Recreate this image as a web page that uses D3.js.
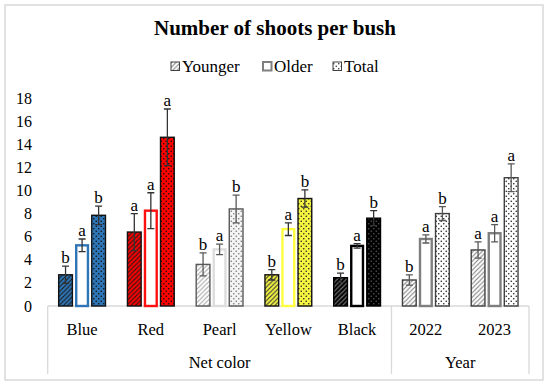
<!DOCTYPE html>
<html>
<head>
<meta charset="utf-8">
<script src="https://cdn.jsdelivr.net/npm/d3@7"></script>
<style>
  body { margin: 0; background: #fff; }
</style>
</head>
<body>
<script>
// data
const categories = ["Blue", "Red", "Pearl", "Yellow", "Black", "2022", "2023"]
const groups = [{ name: "Net color", from: 0, to: 5 }, { name: "Year", from: 5, to: 7 }]
const series = ["Younger", "Older", "Total"]
const younger = [2.7, 6.4, 3.6, 2.7, 2.45, 2.25, 4.85]
const older = [5.25, 8.25, 4.9, 6.65, 5.2, 5.8, 6.3]
const total = [7.85, 14.6, 8.4, 9.3, 7.6, 8.0, 11.1]
const errYounger = [0.75, 1.6, 1.0, 0.45, 0.4, 0.45, 0.7]
const errOlder = [0.55, 1.55, 0.45, 0.55, 0.2, 0.35, 0.75]
const errTotal = [0.8, 2.45, 1.2, 0.75, 0.65, 0.6, 1.2]
const lettersYounger = ["b", "a", "b", "b", "b", "b", "a"]
const lettersOlder = ["a", "a", "a", "a", "a", "a", "a"]
const lettersTotal = ["b", "a", "b", "b", "b", "b", "a"]
const yTicks = [0, 2, 4, 6, 8, 10, 12, 14, 16, 18]

// colours per category (fill, stripe, dot, border, older outline)
const palette = [
  { fill: "#2E75B6", stripe: "#1a1a1a", dot: "#111", border: "#111", outline: "#2E75B6" },
  { fill: "#FF0000", stripe: "#1a1a1a", dot: "#111", border: "#111", outline: "#FF1010" },
  { fill: "#fff", stripe: "#A6A6A6", dot: "#777", border: "#595959", outline: "#DDDDDD", tfill: "#f4f4f4" },
  { fill: "#F5F542", stripe: "#333", dot: "#222", border: "#111", outline: "#FFFF40" },
  { fill: "#000", stripe: "#808080", dot: "#555", border: "#000", outline: "#000" },
  { fill: "#fff", stripe: "#7F7F7F", dot: "#222", border: "#404040", outline: "#7F7F7F" },
  { fill: "#fff", stripe: "#7F7F7F", dot: "#222", border: "#404040", outline: "#7F7F7F" }
]

const W = 550, H = 386
const plot = { left: 47.7, right: 529, top: 98, zero: 306, bottom: 374 }
const FONT = "'Liberation Serif', 'Times New Roman', 'DejaVu Serif', serif"

const svg = d3.select("body").append("svg")
  .attr("width", W)
  .attr("height", H)
  .style("font-family", FONT)

// outer frame
svg.append("rect")
  .attr("x", 5).attr("y", 5)
  .attr("width", 538).attr("height", 375)
  .attr("fill", "#fff")
  .attr("stroke", "#D9D9D9")
  .attr("stroke-width", 1.5)

const defs = svg.append("defs")

function hatch(id, bg, col) {
  const p = defs.append("pattern")
    .attr("id", id)
    .attr("patternUnits", "userSpaceOnUse")
    .attr("width", 4.5).attr("height", 4.5)
  p.append("rect").attr("width", 4.5).attr("height", 4.5).attr("fill", bg)
  p.append("path")
    .attr("d", "M-1,1 l2,-2 M0,4.5 l4.5,-4.5 M3.5,5.5 l2,-2")
    .attr("stroke", col)
    .attr("stroke-width", 1.1)
}

function dots(id, bg, col) {
  const p = defs.append("pattern")
    .attr("id", id)
    .attr("patternUnits", "userSpaceOnUse")
    .attr("width", 5).attr("height", 5)
  p.append("rect").attr("width", 5).attr("height", 5).attr("fill", bg)
  p.append("circle").attr("cx", 1.25).attr("cy", 1.25).attr("r", 0.8).attr("fill", col)
  p.append("circle").attr("cx", 3.75).attr("cy", 3.75).attr("r", 0.8).attr("fill", col)
}

palette.forEach((c, i) => {
  hatch("h" + i, c.fill, c.stripe)
  dots("d" + i, c.tfill || c.fill, c.dot)
})
hatch("hLeg", "#fff", "#7F7F7F")
dots("dLeg", "#fff", "#333")

//=== scales ===
const x = d3.scaleBand()
  .domain(categories)
  .range([plot.left, plot.right])

const y = d3.scaleLinear()
  .domain([0, 18])
  .range([plot.zero, plot.top])

const inner = d3.scaleBand()
  .domain(series)
  .range([-23.4, 23.4])
  .paddingInner(0.17)

// title
svg.append("text")
  .attr("x", 275).attr("y", 35)
  .attr("text-anchor", "middle")
  .attr("font-size", 21)
  .attr("font-weight", "bold")
  .text("Number of shoots per bush")

// legend
const legend = [
  { label: "Younger", x: 171, fill: "url(#hLeg)", stroke: "#404040", sw: 1 },
  { label: "Older", x: 263, fill: "#fff", stroke: "#7F7F7F", sw: 2 },
  { label: "Total", x: 333, fill: "url(#dLeg)", stroke: "#404040", sw: 1 }
]
const lg = svg.append("g").selectAll("g")
  .data(legend)
  .enter().append("g")
lg.append("rect")
  .attr("x", d => d.x).attr("y", 62)
  .attr("width", 8.5).attr("height", 8.5)
  .attr("fill", d => d.fill)
  .attr("stroke", d => d.stroke)
  .attr("stroke-width", d => d.sw)
lg.append("text")
  .attr("x", d => d.x + 11).attr("y", 72)
  .attr("font-size", 17)
  .text(d => d.label)

// y tick labels
svg.append("g")
  .selectAll("text")
  .data(yTicks)
  .enter().append("text")
  .attr("x", 32)
  .attr("y", d => y(d))
  .attr("dy", "0.35em")
  .attr("text-anchor", "end")
  .attr("font-size", 16)
  .text(d => d)

// category axis frame
const axisG = svg.append("g")
  .attr("stroke", "#D9D9D9")
  .attr("stroke-width", 1.3)
axisG.append("line")
  .attr("x1", plot.left).attr("x2", plot.right)
  .attr("y1", plot.zero).attr("y2", plot.zero)
const edges = [0, 5, 7].map(i => i < categories.length ? x(categories[i]) : plot.right)
axisG.selectAll(".sep")
  .data(edges)
  .enter().append("line")
  .attr("x1", d => d).attr("x2", d => d)
  .attr("y1", plot.zero).attr("y2", plot.bottom)

svg.append("g")
  .selectAll("text")
  .data(categories)
  .enter().append("text")
  .attr("x", d => x(d) + x.bandwidth() / 2)
  .attr("y", 335)
  .attr("text-anchor", "middle")
  .attr("font-size", 16.5)
  .text(d => d)

svg.append("g")
  .selectAll("text")
  .data(groups)
  .enter().append("text")
  .attr("x", d => (x(categories[d.from]) + (d.to < categories.length ? x(categories[d.to]) : plot.right)) / 2)
  .attr("y", 368)
  .attr("text-anchor", "middle")
  .attr("font-size", 16.5)
  .text(d => d.name)

//=== bars ===
const rows = []
categories.forEach((c, i) => {
  rows.push({ cat: c, i, s: "Younger", v: younger[i], e: errYounger[i], l: lettersYounger[i] })
  rows.push({ cat: c, i, s: "Older", v: older[i], e: errOlder[i], l: lettersOlder[i] })
  rows.push({ cat: c, i, s: "Total", v: total[i], e: errTotal[i], l: lettersTotal[i] })
})

const bx = d => x(d.cat) + x.bandwidth() / 2 + inner(d.s)

svg.append("g")
  .selectAll("rect")
  .data(rows)
  .enter().append("rect")
  .attr("x", d => bx(d) + (d.s === "Older" ? 1 : 0))
  .attr("y", d => y(d.v))
  .attr("width", d => inner.bandwidth() - (d.s === "Older" ? 2 : 0))
  .attr("height", d => y(0) - y(d.v))
  .attr("fill", d => d.s === "Younger" ? "url(#h" + d.i + ")" : d.s === "Total" ? "url(#d" + d.i + ")" : "#fff")
  .attr("stroke", d => d.s === "Older" ? palette[d.i].outline : palette[d.i].border)
  .attr("stroke-width", d => d.s === "Older" ? 2.4 : 1.4)

// error bars
const err = svg.append("g")
  .attr("stroke-width", 1.3)
  .selectAll("g")
  .data(rows)
  .enter().append("g")
  .attr("stroke", d => (d.i === 2 || d.i >= 5) ? "#595959" : "#333")
err.append("line")
  .attr("x1", d => bx(d) + inner.bandwidth() / 2)
  .attr("x2", d => bx(d) + inner.bandwidth() / 2)
  .attr("y1", d => y(d.v + d.e))
  .attr("y2", d => y(d.v - d.e))
err.append("path")
  .attr("fill", "none")
  .attr("d", d => {
    const cx = bx(d) + inner.bandwidth() / 2
    return "M" + (cx - 3.5) + "," + y(d.v + d.e) + "h7" +
      "M" + (cx - 3.5) + "," + y(d.v - d.e) + "h7"
  })

// significance letters
svg.append("g")
  .selectAll("text")
  .data(rows)
  .enter().append("text")
  .attr("x", d => bx(d) + inner.bandwidth() / 2)
  .attr("y", d => y(d.v + d.e) - 3)
  .attr("text-anchor", "middle")
  .attr("font-size", 17)
  .text(d => d.l)
</script>
</body>
</html>
